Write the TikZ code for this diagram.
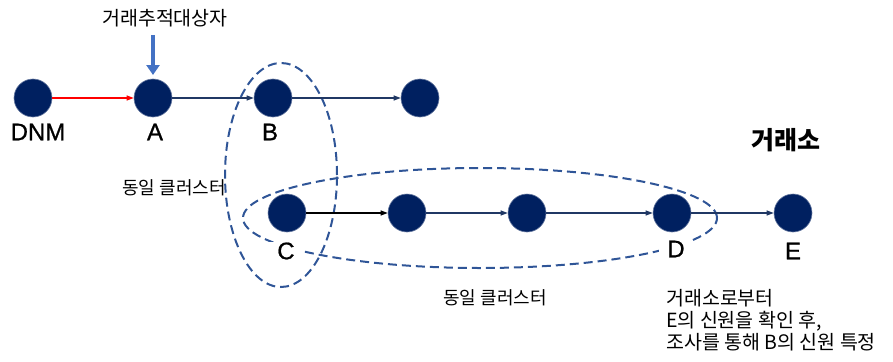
\documentclass[tikz,border=0pt]{standalone}
\usepackage{fontspec}
\setmainfont{Liberation Sans}
\newfontfamily\krfont{Noto Sans CJK KR}
\newfontfamily\letterfont[FakeBold=0.8]{Liberation Sans}
\usetikzlibrary{arrows.meta}
\definecolor{navy}{HTML}{002060}
\definecolor{edgeblue}{HTML}{203864}
\definecolor{clusterblue}{HTML}{2F5597}
\definecolor{markblue}{HTML}{4472C4}
\tikzset{
  addr/.style={circle, fill=navy, draw=navy!60!white, line width=0.6pt, minimum size=38pt, inner sep=0pt},
  tag/.style={font=\letterfont\fontsize{24}{24}\selectfont, inner sep=1pt},
  gaptag/.style={tag, fill=white, inner xsep=8pt},
  flow/.style={-{Triangle[length=7pt,width=5pt]}, line width=1.2pt, draw=edgeblue},
  cluster/.style={draw=clusterblue, line width=2pt, dash pattern=on 9pt off 5pt},
  kr/.style={font=\krfont\fontsize{18}{22}\selectfont, inner sep=0pt},
}
\begin{document}
\begin{tikzpicture}[x=1pt, y=-1pt]
\useasboundingbox (0,0) rectangle (893,361);

% clusters
\draw[cluster] (281,175) ellipse [x radius=56pt, y radius=112pt];
\draw[cluster] (480,218) ellipse [x radius=237pt, y radius=50pt];

% addresses, top row
\node[addr] (dnm) at (33,98) {};
\node[addr] (a) at (153,98) {};
\node[addr] (b) at (273,98) {};
\node[addr] (b2) at (420,98) {};
% addresses, bottom row
\node[addr] (c) at (287,213) {};
\node[addr] (c2) at (407,213) {};
\node[addr] (c3) at (527,213) {};
\node[addr] (d) at (672,213) {};
\node[addr] (e) at (793,213) {};

% transfers
\draw[flow, draw=red] (dnm) -- (a);
\draw[flow] (a) -- (b);
\draw[flow] (b) -- (b2);
\draw[flow, draw=black] (c) -- (c2);
\draw[flow] (c2) -- (c3);
\draw[flow] (c3) -- (d);
\draw[flow] (d) -- (e);

% letters
\node[tag] (ldnm) at (38,132) {DNM};
\node[tag] (la) at (155,132) {A};
\node[tag] (lb) at (270,132) {B};
\node[gaptag] (lc) at (286,251) {C};
\node[gaptag] (ld) at (676,249) {D};
\node[tag] (le) at (793,251) {E};

% tracking target marker
\node[kr, font=\krfont\fontsize{19.5}{20}\selectfont] (target) at (165,18) {거래추적대상자};
\coordinate (mtop) at (153,35);
\coordinate (mbot) at (153,75);
\draw[-{Triangle[length=10pt,width=13pt]}, line width=4pt, markblue] (mtop) -- (mbot);

% notes
\node[kr, font=\krfont\bfseries\fontsize{25}{25}\selectfont] (exch) at (786,140) {거래소};
\node[kr] (cl1) at (174,188) {동일 클러스터};
\node[kr] (cl2) at (495,298) {동일 클러스터};
\node[kr, anchor=north west, align=left, font=\krfont\fontsize{19.5}{22}\selectfont] (note) at (666,289)
  {거래소로부터\\E의 신원을 확인 후,\\조사를 통해 B의 신원 특정};
\end{tikzpicture}
\end{document}
